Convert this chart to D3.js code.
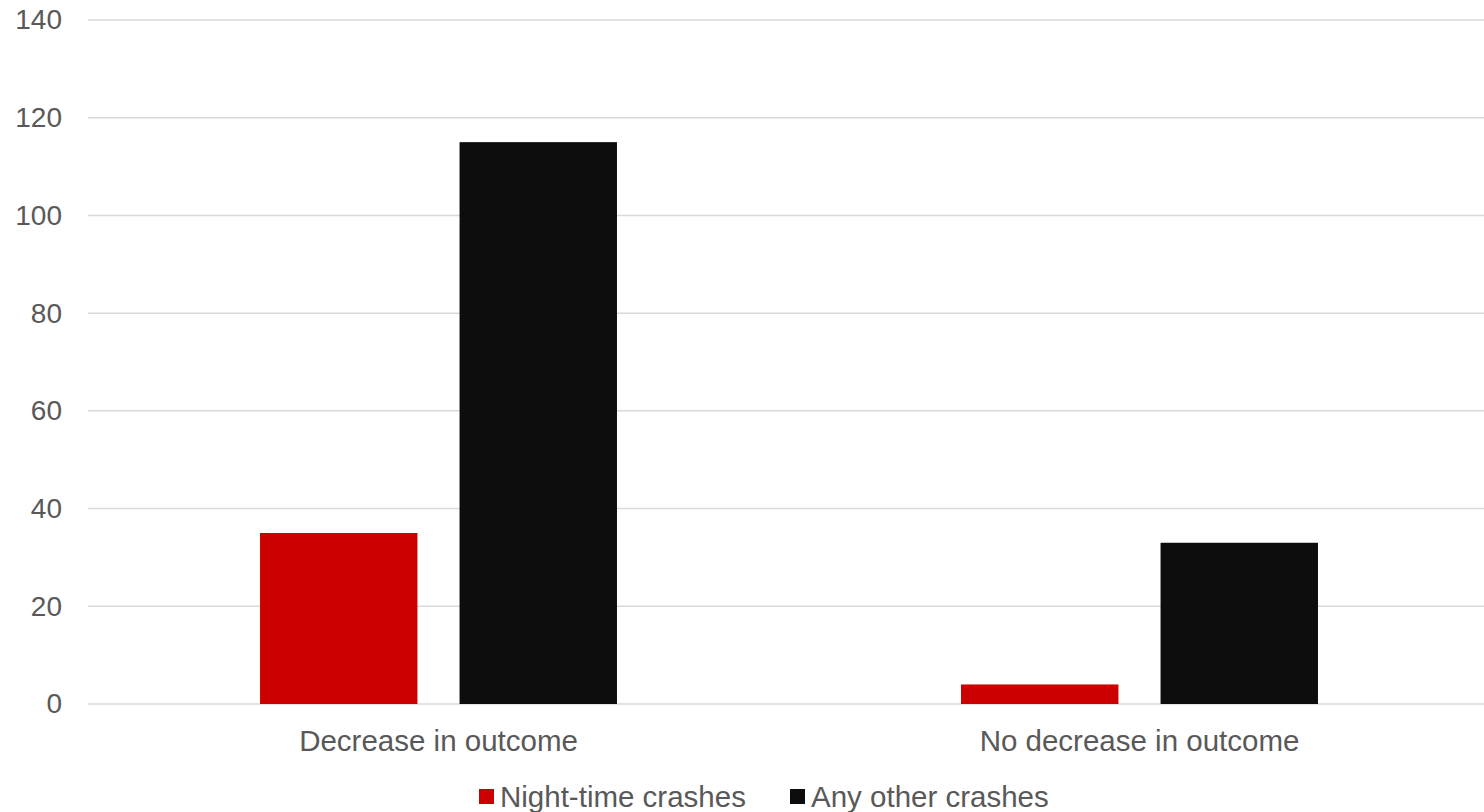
<!DOCTYPE html>
<html>
<head>
<meta charset="utf-8">
<script src="https://cdn.jsdelivr.net/npm/d3@7"></script>
<style>
  html, body { margin: 0; padding: 0; background: #fff; }
  svg { display: block; }
  text { font-family: "Liberation Sans", Arial, sans-serif; fill: #595959; }
</style>
</head>
<body>
<svg id="chart" width="1484" height="812"></svg>
<script>
// Crash counts by outcome group
const categories = ["Decrease in outcome", "No decrease in outcome"];
const seriesNames = ["Night-time crashes", "Any other crashes"];
const nightTime = [35, 4];
const otherCrashes = [115, 33];
const yTicks = [0, 20, 40, 60, 80, 100, 120, 140];
const seriesColors = ["#cc0000", "#0d0d0d"];

const seriesValues = [nightTime, otherCrashes];

const W = 1484, H = 812;
const plot = { left: 88, right: 1490, top: 20, bottom: 704 };

const svg = d3.select("#chart");

const x = d3.scaleBand()
  .domain(categories)
  .range([plot.left, plot.right])
  .paddingInner(0)
  .paddingOuter(0);

const step = x.bandwidth();
const inner = d3.scaleBand()
  .domain(seriesNames)
  .range([step * 0.2454, step * (1 - 0.2454)])
  .paddingInner(0.211)
  .paddingOuter(0);

const y = d3.scaleLinear()
  .domain([0, 140])
  .range([plot.bottom, plot.top]);

// Horizontal gridlines
svg.append("g")
  .selectAll("line")
  .data(yTicks)
  .join("line")
  .attr("x1", plot.left)
  .attr("x2", plot.right)
  .attr("y1", d => y(d))
  .attr("y2", d => y(d))
  .attr("stroke", "#d9d9d9")
  .attr("stroke-width", 1.5);

// Y axis labels
const yAxis = d3.axisLeft(y).tickValues(yTicks).tickSize(0).tickPadding(0);
const yg = svg.append("g")
  .attr("transform", `translate(${plot.left - 26},0)`)
  .call(yAxis);
yg.select(".domain").remove();
yg.selectAll("text")
  .attr("font-size", 28)
  .attr("font-family", "Liberation Sans, Arial, sans-serif")
  .attr("fill", "#595959");

// Bars
const groups = svg.append("g")
  .selectAll("g")
  .data(categories)
  .join("g")
  .attr("transform", d => `translate(${x(d)},0)`);

groups.selectAll("rect")
  .data((c, i) => seriesNames.map((s, j) => ({ series: s, value: seriesValues[j][i], color: seriesColors[j] })))
  .join("rect")
  .attr("x", d => inner(d.series))
  .attr("width", inner.bandwidth())
  .attr("y", d => y(d.value))
  .attr("height", d => y(0) - y(d.value))
  .attr("fill", d => d.color);

// Category labels
const xAxis = d3.axisBottom(x).tickSize(0).tickPadding(0);
const xg = svg.append("g")
  .attr("transform", `translate(0,${plot.bottom + 36.5})`)
  .call(xAxis);
xg.select(".domain").remove();
xg.selectAll("text")
  .attr("dy", "0.35em")
  .attr("font-size", 29.5)
  .attr("font-family", "Liberation Sans, Arial, sans-serif")
  .attr("fill", "#595959");

// Legend
const legend = svg.append("g");
const legendY = 797;
const legendItems = [
  { name: seriesNames[0], color: seriesColors[0], x: 479 },
  { name: seriesNames[1], color: seriesColors[1], x: 790 }
];
const li = legend.selectAll("g")
  .data(legendItems)
  .join("g")
  .attr("transform", d => `translate(${d.x},${legendY})`);
li.append("rect")
  .attr("x", 0)
  .attr("y", -8)
  .attr("width", 15)
  .attr("height", 15)
  .attr("fill", d => d.color);
li.append("text")
  .attr("x", 21)
  .attr("y", 0)
  .attr("dy", "0.35em")
  .attr("font-size", 29.5)
  .text(d => d.name);
</script>
</body>
</html>
